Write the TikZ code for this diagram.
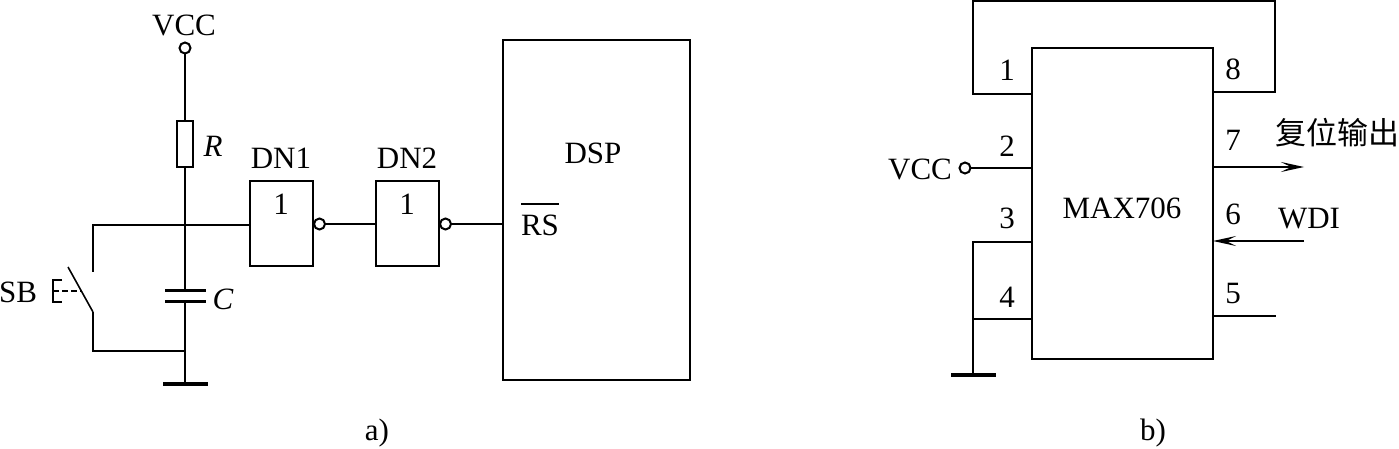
\documentclass[tikz,border=0pt]{standalone}
\usepackage{fontspec}
\setmainfont{Liberation Serif}
\newfontfamily\cjk{Noto Sans CJK SC}
\usetikzlibrary{arrows.meta}
\begin{document}
\begin{tikzpicture}[x=1pt,y=-1pt,line width=2pt,
  txt/.style = {font=\fontsize{31}{34}\selectfont, inner sep=0pt, outer sep=0pt},
  box/.style = {draw, rectangle, inner sep=0pt, outer sep=0pt},
  gate/.style = {box, minimum width=63pt, minimum height=85pt},
  bubble/.style = {draw, circle, inner sep=0pt, outer sep=0pt, minimum size=11pt},
  term/.style = {draw, circle, inner sep=0pt, outer sep=0pt, minimum size=11pt},
  gnd/.style = {fill, rectangle, inner sep=0pt, outer sep=0pt, minimum width=45pt, minimum height=3.5pt},
  plate/.style = {fill, rectangle, inner sep=0pt, outer sep=0pt, minimum width=41pt, minimum height=3pt},
  sig/.style = {-{Stealth[length=23pt,width=10pt,inset=10pt]}}]
\useasboundingbox (0,0) rectangle (1399,449);
% a)
\node[txt] (vcca) at (184,25) {VCC};
\node[term] (terma) at (185,48) {};
\node[box, minimum width=16pt, minimum height=46pt] (res) at (185,144) {};
\node[txt] (rlab) at (213,146) {\textit{R}};
\node[plate] (capt) at (185,290) {};
\node[plate] (capb) at (185,301) {};
\node[txt] (clab) at (223,299) {\textit{C}};
\node[gnd] (gnda) at (185,384) {};
\node[gate] (dn1) at (281.5,223.5) {};
\node[gate] (dn2) at (407.5,223.5) {};
\node[bubble] (bub1) at (319.5,224) {};
\node[bubble] (bub2) at (445.5,224) {};
\node[txt] (dn1lab) at (281,158) {DN1};
\node[txt] (dn2lab) at (407,158) {DN2};
\node[txt] (one1) at (281,204) {1};
\node[txt] (one2) at (407,204) {1};
\node[box, minimum width=187pt, minimum height=340pt] (dsp) at (596.5,210) {};
\node[txt] (dsplab) at (593,153) {DSP};
\node[txt, anchor=base] (rs) at (540,235) {\vbox{\hrule height 2pt\kern 9pt\hbox{RS}}};
\node[txt] (sb) at (18,292) {SB};
\node[txt] (alab) at (377,433) {a)};
\coordinate (jn) at (185,225);
\coordinate (jg) at (185,351);
\coordinate (swt) at (93,272);
\coordinate (swb) at (93,312);
\coordinate (swe) at (68,267);
\draw (terma) -- (res);
\draw (res) -- (jn) -- (capt);
\draw (capb) -- (jg) -- (gnda);
\draw (jn) -- (dn1.west |- jn);
\draw (jn) -| (swt);
\draw (jg) -| (swb);
\draw[line width=1.6pt] (swe) -- (swb);
\draw[line width=1.6pt] (62,280) -- (53,280) -- (53,302) -- (62,302);
\draw[line width=1.6pt, dash pattern=on 6pt off 3pt] (53,291) -- (81,291);
\draw (bub1) -- (dn2.west |- bub1);
\draw (bub2) -- (dsp.west |- bub2);
% b)
\node[box, minimum width=181pt, minimum height=311pt] (chip) at (1122.5,203.5) {};
\node[txt] (chiplab) at (1122,208) {MAX706};
\node[txt] (vccb) at (920,169) {VCC};
\node[term] (termb) at (965,168) {};
\node[gnd] (gndb) at (973,375) {};
\node[txt] (pin1) at (1007,70) {1};
\node[txt] (pin2) at (1007,146) {2};
\node[txt] (pin3) at (1007,218) {3};
\node[txt] (pin4) at (1007,297) {4};
\node[txt] (pin8) at (1233,69) {8};
\node[txt] (pin7) at (1233,140) {7};
\node[txt] (pin6) at (1233,214) {6};
\node[txt] (pin5) at (1233,294) {5};
\node[txt] (rst) at (1337,133) {\cjk 复位输出};
\node[txt] (wdi) at (1309,219) {WDI};
\node[txt] (blab) at (1153,433) {b)};
\coordinate (p1) at (chip.west |- 0,94);
\coordinate (p3) at (chip.west |- 0,242);
\coordinate (p4) at (chip.west |- 0,319);
\coordinate (p8) at (chip.east |- 0,92);
\coordinate (p7) at (chip.east |- 0,167);
\coordinate (p6) at (chip.east |- 0,241);
\coordinate (p5) at (chip.east |- 0,316);
\coordinate (outq) at (1304,167);
\coordinate (inw) at (1304,241);
\coordinate (end5) at (1276,316);
\draw (p1) -- (973,94) -- (973,1) -- (1275,1) -- (1275,92) -- (p8);
\draw (termb) -- (chip.west |- termb);
\draw (p3) -- (973,242) -- (gndb);
\draw (p4) -- (973,319);
\draw (p5) -- (end5);
\draw[sig] (p7) -- (outq);
\draw[sig] (inw) -- (p6);
\end{tikzpicture}
\end{document}
